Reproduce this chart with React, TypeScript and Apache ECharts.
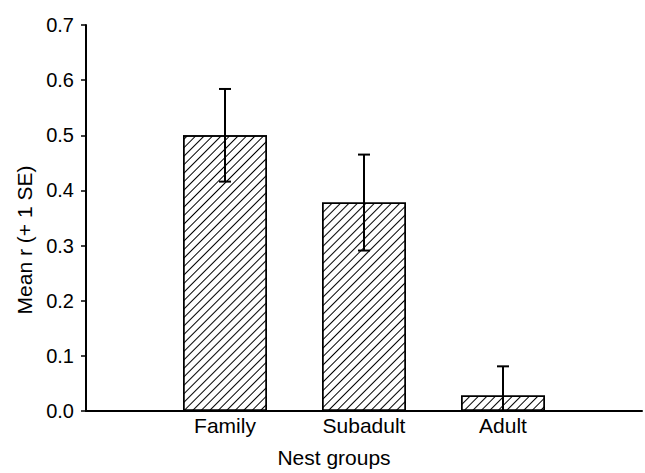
import React, { useEffect, useRef } from "react";
import * as echarts from "echarts";

const categories = ["", "Family", "Subadult", "Adult", ""];
const meanValues = [0.5, 0.378, 0.028];
const seValues = [0.084, 0.087, 0.053];
const yTicks = { min: 0, max: 0.7, interval: 0.1 };

const FONT = "Liberation Sans, Arial, sans-serif";

export default function App() {
  const ref = useRef<HTMLDivElement>(null);
  useEffect(() => {
    if (!ref.current) return;
    const chart = echarts.init(ref.current, null, { renderer: "svg" });
    const barData = categories.map((c, i) =>
      i >= 1 && i <= meanValues.length ? meanValues[i - 1] : "-"
    );
    const errData = meanValues.map((v, i) => [
      i + 1,
      Math.max(0, v - seValues[i]),
      v + seValues[i],
    ]);
    chart.setOption({
      animation: false,
      backgroundColor: "#ffffff",
      grid: { left: 86, right: 0, top: 25, bottom: 57.5, containLabel: false },
      xAxis: {
        type: "category",
        data: categories,
        boundaryGap: false,
        axisLine: { lineStyle: { color: "#000", width: 2 } },
        axisTick: { show: false },
        axisLabel: {
          color: "#000",
          fontFamily: FONT,
          fontSize: 21,
          margin: 4,
          interval: 0,
        },
        name: "Nest groups",
        nameLocation: "middle",
        nameGap: 36,
        nameTextStyle: {
          color: "#000",
          fontFamily: FONT,
          fontSize: 21,
          padding: [0, 60, 0, 0],
        },
      },
      yAxis: {
        type: "value",
        min: yTicks.min,
        max: yTicks.max,
        interval: yTicks.interval,
        splitLine: { show: false },
        axisLine: { show: true, lineStyle: { color: "#000", width: 2 } },
        axisTick: { show: true, length: 5, lineStyle: { color: "#000", width: 1.5 } },
        axisLabel: {
          color: "#000",
          fontFamily: FONT,
          fontSize: 20,
          margin: 12,
          formatter: (v: number) => v.toFixed(1),
        },
        name: "Mean r (+ 1 SE)",
        nameLocation: "middle",
        nameGap: 50,
        nameRotate: 90,
        nameTextStyle: {
          color: "#000",
          fontFamily: FONT,
          fontSize: 21,
          padding: [0, 44, 0, 0],
        },
      },
      series: [
        {
          type: "bar",
          data: barData,
          barWidth: 84,
          itemStyle: {
            color: "#ffffff",
            borderColor: "#000",
            borderWidth: 1.5,
            decal: {
              symbol: "rect",
              symbolSize: 1,
              color: "#000",
              dashArrayX: [1, 0],
              dashArrayY: [1, 5],
              rotation: -Math.PI / 4,
            },
          },
          z: 2,
        },
        {
          type: "custom",
          data: errData,
          z: 5,
          renderItem: (params: any, api: any) => {
            const x = api.value(0);
            const lo = api.coord([x, api.value(1)]);
            const hi = api.coord([x, api.value(2)]);
            const half = 6;
            const style = { stroke: "#000", lineWidth: 2 };
            return {
              type: "group",
              children: [
                { type: "line", shape: { x1: hi[0], y1: hi[1], x2: lo[0], y2: lo[1] }, style },
                { type: "line", shape: { x1: hi[0] - half, y1: hi[1], x2: hi[0] + half, y2: hi[1] }, style },
                { type: "line", shape: { x1: lo[0] - half, y1: lo[1], x2: lo[0] + half, y2: lo[1] }, style },
              ],
            };
          },
        },
      ],
    });
    return () => chart.dispose();
  }, []);
  return (
    <div
      ref={ref}
      style={{ position: "fixed", left: 0, top: 0, width: 645, height: 473 }}
    />
  );
}
